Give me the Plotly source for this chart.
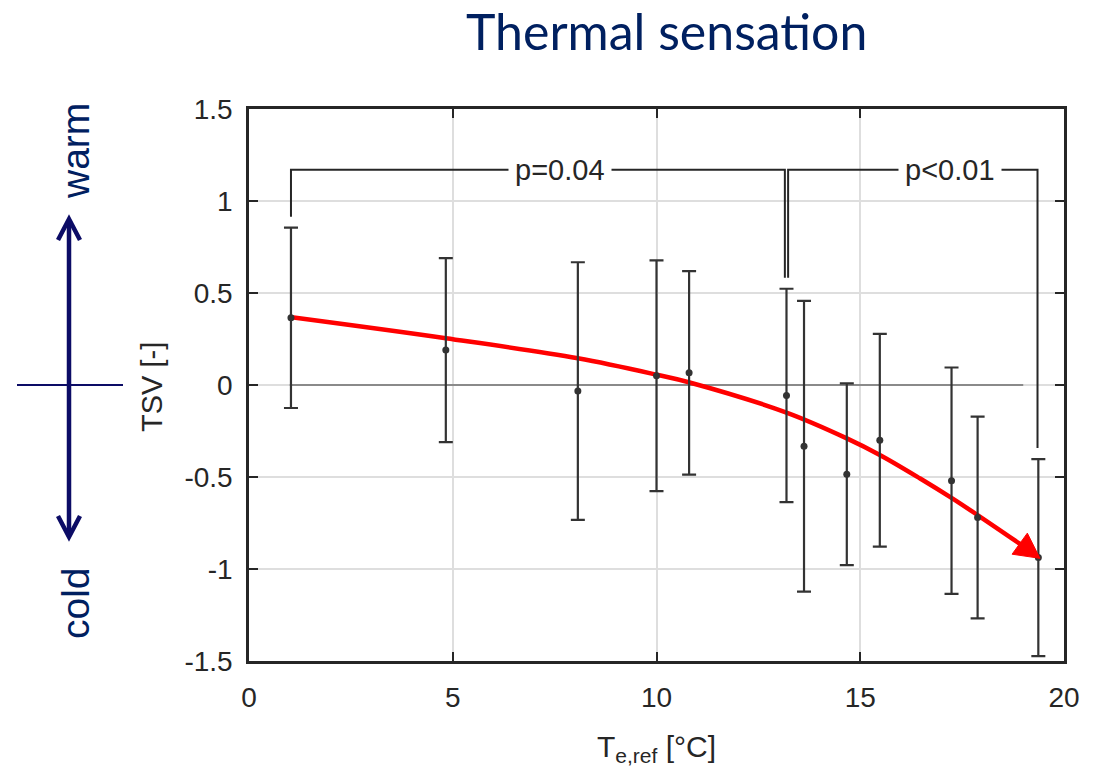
import math
import plotly.graph_objects as go

# ---------------- data ----------------
T_ref = [1.03, 4.83, 8.07, 10.0, 10.80, 13.19, 13.62, 14.67, 15.48, 17.24, 17.88, 19.37]
TSV_mean = [0.365, 0.19, -0.033, 0.05, 0.066, -0.057, -0.333, -0.485, -0.30, -0.52, -0.72, -0.938]
TSV_err = [0.49, 0.50, 0.70, 0.627, 0.553, 0.58, 0.79, 0.494, 0.578, 0.615, 0.548, 0.535]

trend_T = [1.05, 4.83, 8.07, 10.04, 10.79, 13.19, 14.67, 15.48, 16.47, 17.23, 17.86, 18.93]
trend_TSV = [0.368, 0.254, 0.145, 0.054, 0.015, -0.15, -0.29, -0.38, -0.508, -0.612, -0.704, -0.865]
arrow_tip_T = 19.41
arrow_tip_TSV = -0.942

p_labels = ["p=0.04", "p<0.01"]
p_label_T = [7.63, 17.21]
x_ticks = [0, 5, 10, 15, 20]
y_ticks = [-1.5, -1, -0.5, 0, 0.5, 1, 1.5]
y_tick_text = ["-1.5", "-1", "-0.5", "0", "0.5", "1", "1.5"]

# ---------------- layout constants ----------------
W, H = 1096, 776
L, R, TOP, B = 249, 32, 109, 115
PW, PH = W - L - R, H - TOP - B
X_RANGE = [0, 20]
Y_RANGE = [-1.5, 1.5]
NAVY = "#002060"
ARROW_NAVY = "#0c0c66"
DARK = "#262626"
FONT = "Liberation Sans, Arial, sans-serif"


def px(x):
    return (x - L) / PW


def py(y):
    return (H - B - y) / PH


fig = go.Figure()

# trend line (red)
fig.add_trace(go.Scatter(
    x=trend_T, y=trend_TSV, mode="lines",
    line=dict(color="#ff0000", width=4.5, shape="spline", smoothing=1.0),
    hoverinfo="skip", showlegend=False))

# mean +/- sd
fig.add_trace(go.Scatter(
    x=T_ref, y=TSV_mean, mode="markers",
    marker=dict(color="#333333", size=7),
    error_y=dict(type="data", array=TSV_err, visible=True,
                 color="#333333", thickness=2.2, width=7),
    showlegend=False))

shapes = []
annotations = []

# zero reference line
shapes.append(dict(type="line", xref="x", yref="y", x0=1, x1=19, y0=0, y1=0,
                   line=dict(color="#8a8a8a", width=2), layer="between"))

# significance brackets
gap = 0.06
y_br = 1.17
b_left = [(T_ref[0], TSV_mean[0] + TSV_err[0] + gap),
          (T_ref[5] - 0.04, TSV_mean[5] + TSV_err[5] + gap)]
b_right = [(T_ref[5] + 0.04, TSV_mean[5] + TSV_err[5] + gap),
           (T_ref[11] - 0.02, TSV_mean[11] + TSV_err[11] + gap)]
for (xa, ya), (xb, yb) in (b_left, b_right):
    shapes.append(dict(type="path", xref="x", yref="y",
                       path=f"M {xa},{ya} L {xa},{y_br} L {xb},{y_br} L {xb},{yb}",
                       line=dict(color=DARK, width=2)))
for label, xl in zip(p_labels, p_label_T):
    annotations.append(dict(x=xl, y=y_br, xref="x", yref="y", text=label,
                            showarrow=False, bgcolor="white", borderpad=6,
                            font=dict(family=FONT, size=29, color=DARK)))

# red arrow head (triangle anchored at the tip, sized in pixels)
sx = PW / (X_RANGE[1] - X_RANGE[0])
sy = PH / (Y_RANGE[1] - Y_RANGE[0])
dx = (arrow_tip_T - trend_T[-1]) * sx
dy = (arrow_tip_TSV - trend_TSV[-1]) * sy
n = math.hypot(dx, dy)
ux, uy = dx / n, dy / n
head_len, half_w = 25, 13
bx, by = -head_len * ux, -head_len * uy
nx, ny = -uy, ux
c1 = (bx + half_w * nx, by + half_w * ny)
c2 = (bx - half_w * nx, by - half_w * ny)
shapes.append(dict(type="path", xref="x", yref="y",
                   xsizemode="pixel", ysizemode="pixel",
                   xanchor=arrow_tip_T, yanchor=arrow_tip_TSV,
                   path=f"M 0,0 L {c1[0]:.2f},{c1[1]:.2f} L {c2[0]:.2f},{c2[1]:.2f} Z",
                   fillcolor="#ff0000", line=dict(color="#ff0000", width=1)))

# left warm/cold scale
shapes.append(dict(type="line", xref="paper", yref="paper",
                   x0=px(69), x1=px(69), y0=py(221), y1=py(535),
                   line=dict(color=ARROW_NAVY, width=4.5)))
shapes.append(dict(type="path", xref="paper", yref="paper",
                   path=f"M {px(58)},{py(240)} L {px(69)},{py(219)} L {px(80)},{py(240)}",
                   line=dict(color=ARROW_NAVY, width=4.5)))
shapes.append(dict(type="path", xref="paper", yref="paper",
                   path=f"M {px(58)},{py(516)} L {px(69)},{py(537)} L {px(80)},{py(516)}",
                   line=dict(color=ARROW_NAVY, width=4.5)))
shapes.append(dict(type="line", xref="paper", yref="paper",
                   x0=px(17), x1=px(123), y0=py(385), y1=py(385),
                   line=dict(color=ARROW_NAVY, width=2)))
annotations.append(dict(x=px(75), y=py(151), xref="paper", yref="paper", text="warm",
                        textangle=-90, showarrow=False, xanchor="center", yanchor="middle",
                        font=dict(family=FONT, size=39, color=NAVY)))
annotations.append(dict(x=px(75), y=py(603), xref="paper", yref="paper", text="cold",
                        textangle=-90, showarrow=False, xanchor="center", yanchor="middle",
                        font=dict(family=FONT, size=39, color=NAVY)))

# axis titles
annotations.append(dict(x=px(152), y=py(387), xref="paper", yref="paper", text="TSV [-]",
                        textangle=-90, showarrow=False, xanchor="center", yanchor="middle",
                        font=dict(family=FONT, size=29, color=DARK)))
annotations.append(dict(x=px(656), y=py(748), xref="paper", yref="paper",
                        text="T<sub>e,ref</sub> [°C]",
                        showarrow=False, xanchor="center", yanchor="middle",
                        font=dict(family=FONT, size=30, color=DARK)))

# title
annotations.append(dict(x=px(666), y=py(31), xref="paper", yref="paper",
                        text="Thermal sensation", showarrow=False,
                        xanchor="center", yanchor="middle",
                        font=dict(family="Lato, Open Sans, sans-serif", size=50, color=NAVY)))

axis_common = dict(showgrid=True, gridcolor="#dedede", gridwidth=2,
                   zeroline=False, showline=True, linecolor=DARK, linewidth=2.5,
                   mirror="ticks", ticks="inside", ticklen=9, tickwidth=2, tickcolor=DARK,
                   tickfont=dict(family=FONT, size=28, color=DARK))

fig.update_layout(
    width=W, height=H,
    margin=dict(l=L, r=R, t=TOP, b=B, autoexpand=False),
    paper_bgcolor="white", plot_bgcolor="white",
    showlegend=False,
    shapes=shapes, annotations=annotations,
    xaxis=dict(range=X_RANGE, tickvals=x_ticks, ticklabelstandoff=10, **axis_common),
    yaxis=dict(range=Y_RANGE, tickvals=y_ticks, ticktext=y_tick_text,
               ticklabelstandoff=8, **axis_common),
)

fig.write_html("out.html")
